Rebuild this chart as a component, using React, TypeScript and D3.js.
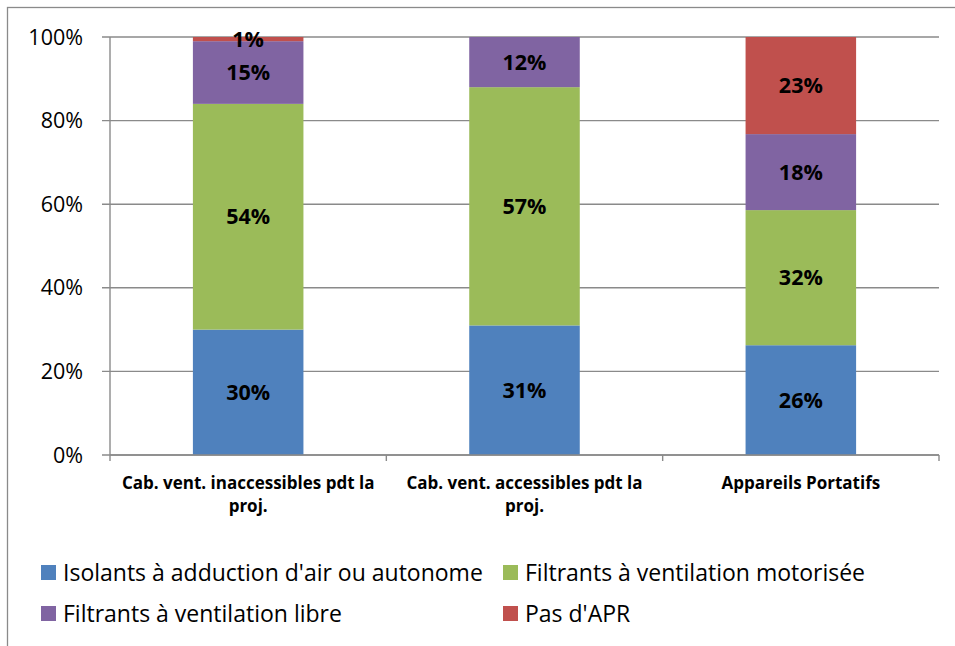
import React from "react";
import * as d3 from "d3";

const categories = [
  "Cab. vent. inaccessibles pdt la proj.",
  "Cab. vent. accessibles pdt la proj.",
  "Appareils Portatifs",
];
const categoryLines = [
  ["Cab. vent. inaccessibles pdt la", "proj."],
  ["Cab. vent. accessibles pdt la", "proj."],
  ["Appareils Portatifs"],
];
const seriesNames = [
  "Isolants à adduction d'air ou autonome",
  "Filtrants à ventilation motorisée",
  "Filtrants à ventilation libre",
  "Pas d'APR",
];
const isolants = [30, 31, 26];
const motorisee = [54, 57, 32];
const libre = [15, 12, 18];
const pasApr = [1, 0, 23];
const seriesColors = ["#4F81BD", "#9BBB59", "#8064A2", "#C0504D"];
const yTicks = [0, 0.2, 0.4, 0.6, 0.8, 1];

const W = 955;
const H = 646;
const left = 110;
const right = 939;
const top = 37;
const bottom = 455;

export default function App() {
  const seriesValues = [isolants, motorisee, libre, pasApr];
  const rows = categories.map((c, i) => {
    const row: any = { cat: c };
    seriesNames.forEach((s, j) => (row[s] = seriesValues[j][i]));
    return row;
  });
  const stacked = d3
    .stack()
    .keys(seriesNames)
    .offset(d3.stackOffsetExpand)(rows as any);

  const x = d3
    .scaleBand()
    .domain(categories)
    .range([left, right])
    .paddingInner(0.6)
    .paddingOuter(0.3);
  const y = d3.scaleLinear().domain([0, 1]).range([bottom, top]);
  const fmt = d3.format(".0%");
  const step = x.step();
  const boundaries = d3.range(categories.length + 1).map((i) => left + i * step);
  const font = "'Open Sans', 'DejaVu Sans', sans-serif";
  const grid = "#8a8a8a";

  return (
    <svg
      width={W}
      height={H}
      style={{ position: "absolute", left: 0, top: 0, background: "#fff" }}
      fontFamily={font}
    >
      <rect x={7.5} y={7.5} width={W + 10} height={H + 10} fill="#fff" stroke="#8a8a8a" strokeWidth={1.3} />
      {yTicks.map((t) => (
        <g key={t}>
          <line x1={left - 8} x2={right} y1={y(t)} y2={y(t)} stroke={grid} strokeWidth={1.4} />
          <text x={83} y={y(t)} dy="0.35em" textAnchor="end" fontSize={21.5} fill="#000">
            {fmt(t)}
          </text>
        </g>
      ))}
      <line x1={left} x2={left} y1={top} y2={bottom} stroke={grid} strokeWidth={1.4} />
      {boundaries.map((b, i) => (
        <line key={i} x1={b} x2={b} y1={bottom} y2={bottom + 6} stroke={grid} strokeWidth={1.4} />
      ))}
      {stacked.map((s, si) => (
        <g key={s.key} fill={seriesColors[si]}>
          {s.map((d: any, i) => {
            const v = seriesValues[si][i];
            if (!v) return null;
            const y0 = y(d[0]);
            const y1 = y(d[1]);
            return (
              <g key={i}>
                <rect x={x(categories[i])} y={y1} width={x.bandwidth()} height={y0 - y1} />
              </g>
            );
          })}
        </g>
      ))}
      {stacked.map((s, si) => (
        <g key={"l" + s.key}>
          {s.map((d: any, i) => {
            const v = seriesValues[si][i];
            if (!v) return null;
            return (
              <text
                key={i}
                x={(x(categories[i]) as number) + x.bandwidth() / 2}
                y={(y(d[0]) + y(d[1])) / 2}
                dy="0.35em"
                textAnchor="middle"
                fontWeight="bold"
                fontSize={21.5}
                fill="#000"
              >
                {v + "%"}
              </text>
            );
          })}
        </g>
      ))}
      <line x1={left} x2={right} y1={bottom} y2={bottom} stroke={grid} strokeWidth={1.4} />
      {categoryLines.map((lines, i) => (
        <text
          key={i}
          x={(x(categories[i]) as number) + x.bandwidth() / 2}
          y={489}
          textAnchor="middle"
          fontWeight="bold"
          fontSize={17}
          fill="#000"
        >
          {lines.map((l, k) => (
            <tspan key={k} x={(x(categories[i]) as number) + x.bandwidth() / 2} dy={k === 0 ? 0 : 23}>
              {l}
            </tspan>
          ))}
        </text>
      ))}
      {seriesNames.map((s, i) => {
        const lx = i % 2 === 0 ? 41 : 503;
        const ly = i < 2 ? 565 : 606;
        return (
          <g key={s}>
            <rect x={lx} y={ly} width={15} height={15} fill={seriesColors[i]} />
            <text x={lx + 22} y={ly + 8} dy="0.35em" fontSize={23} fill="#000">
              {s}
            </text>
          </g>
        );
      })}
    </svg>
  );
}
